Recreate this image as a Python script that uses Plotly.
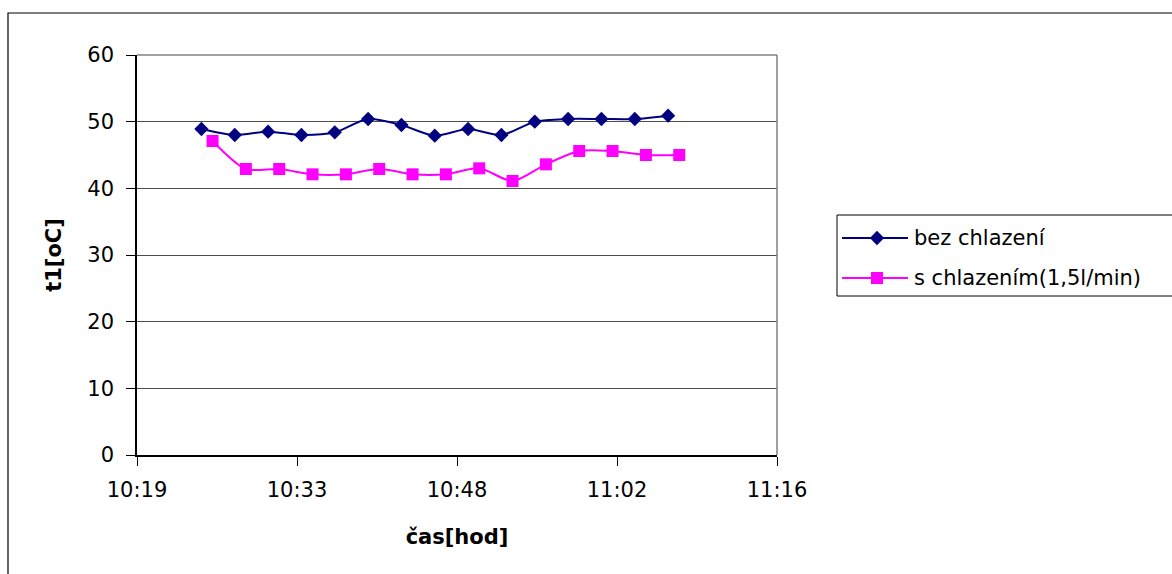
import plotly.graph_objects as go

# measurement times (hh:mm) and temperatures t1 [°C]
cas_bez = ["10:25", "10:28", "10:31", "10:34", "10:37", "10:40", "10:43", "10:46",
           "10:49", "10:52", "10:55", "10:58", "11:01", "11:04", "11:07"]
t1_bez = [48.9, 48.0, 48.5, 48.0, 48.4, 50.4, 49.5, 47.9,
          48.9, 48.0, 50.0, 50.4, 50.4, 50.4, 50.9]

cas_s = ["10:26", "10:29", "10:32", "10:35", "10:38", "10:41", "10:44", "10:47",
         "10:50", "10:53", "10:56", "10:59", "11:02", "11:05", "11:08"]
t1_s = [47.1, 42.9, 42.9, 42.1, 42.1, 42.9, 42.1, 42.1,
        43.0, 41.1, 43.6, 45.6, 45.6, 45.0, 45.0]

series_names = ["bez chlazení", "s chlazením(1,5l/min)"]

# axis: 10:19:12 .. 11:16:48 with a major step of 0.01 day (14.4 min)
x_tick_vals = ["2000-01-01 10:19:12", "2000-01-01 10:33:36", "2000-01-01 10:48:00",
               "2000-01-01 11:02:24", "2000-01-01 11:16:48"]
x_tick_text = ["10:19", "10:33", "10:48", "11:02", "11:16"]


def stamp(hm):
    return "2000-01-01 " + hm + ":00"


W, H = 1172, 574
FONT = "DejaVu Sans, Liberation Sans, Arial, sans-serif"
FS = 21
BLUE = "#000080"
PINK = "#FF00FF"

fig = go.Figure()
fig.add_trace(go.Scatter(
    x=[stamp(t) for t in cas_bez], y=t1_bez, name=series_names[0],
    mode="lines+markers",
    line=dict(color=BLUE, width=2, shape="spline", smoothing=0.8),
    marker=dict(symbol="diamond", size=11, color=BLUE),
    showlegend=False,
))
fig.add_trace(go.Scatter(
    x=[stamp(t) for t in cas_s], y=t1_s, name=series_names[1],
    mode="lines+markers",
    line=dict(color=PINK, width=2, shape="spline", smoothing=0.8),
    marker=dict(symbol="square", size=12, color=PINK),
    showlegend=False,
))

# legend keys, drawn on a pixel-based overlay axis pair
key_rows = [238, 278]
for row, color, sym, size in [(key_rows[0], BLUE, "diamond", 11),
                              (key_rows[1], PINK, "square", 12)]:
    fig.add_trace(go.Scatter(
        x=[842, 908], y=[row, row], xaxis="x2", yaxis="y2",
        mode="lines", line=dict(color=color, width=2),
        showlegend=False, hoverinfo="skip",
    ))
    fig.add_trace(go.Scatter(
        x=[877], y=[row], xaxis="x2", yaxis="y2",
        mode="markers", marker=dict(symbol=sym, size=size, color=color),
        showlegend=False, hoverinfo="skip",
    ))

x0, x1 = 137 / W, 777 / W
y0, y1 = 1 - 455 / H, 1 - 55 / H

fig.update_layout(
    width=W, height=H,
    margin=dict(l=0, r=0, t=0, b=0, autoexpand=False),
    paper_bgcolor="white", plot_bgcolor="rgba(0,0,0,0)",
    font=dict(family=FONT, size=FS, color="black"),
    showlegend=False,
    xaxis=dict(
        domain=[x0, x1],
        type="date",
        range=[x_tick_vals[0], x_tick_vals[-1]],
        tickmode="array", tickvals=x_tick_vals, ticktext=x_tick_text,
        showgrid=False, zeroline=False, automargin=False,
        showline=True, linecolor="black", linewidth=1.5,
        ticks="outside", ticklen=9, tickcolor="black",
        ticklabelstandoff=6,
        title=dict(text="<b>čas[hod]</b>", font=dict(size=FS), standoff=28),
    ),
    yaxis=dict(
        domain=[y0, y1],
        range=[0, 60], tickmode="linear", tick0=0, dtick=10,
        showgrid=True, gridcolor="#4d4d4d", gridwidth=1,
        zeroline=False, automargin=False,
        showline=True, linecolor="black", linewidth=1.5,
        ticks="outside", ticklen=9, tickcolor="black",
        ticklabelstandoff=8,
        title=dict(text="<b>t1[oC]</b>", font=dict(size=FS), standoff=20),
    ),
    xaxis2=dict(domain=[0, 1], range=[0, W], anchor="y2", visible=False,
                fixedrange=True),
    yaxis2=dict(domain=[0, 1], range=[H, 0], anchor="x2", visible=False,
                fixedrange=True),
    annotations=[
        dict(text=series_names[0], xref="paper", yref="paper",
             x=912 / W, y=1 - key_rows[0] / H, xanchor="left", yanchor="middle",
             showarrow=False, font=dict(size=FS)),
        dict(text=series_names[1], xref="paper", yref="paper",
             x=912 / W, y=1 - key_rows[1] / H, xanchor="left", yanchor="middle",
             showarrow=False, font=dict(size=FS)),
    ],
    shapes=[
        # plot area frame (grey top/right edges)
        dict(type="line", xref="paper", yref="paper", x0=x0, x1=x1, y0=y1, y1=y1,
             line=dict(color="#808080", width=1.5)),
        dict(type="line", xref="paper", yref="paper", x0=x1, x1=x1, y0=y0, y1=y1,
             line=dict(color="#808080", width=1.5)),
        # legend frame
        dict(type="rect", xref="paper", yref="paper",
             x0=837 / W, x1=1.01, y0=1 - 296 / H, y1=1 - 215 / H,
             line=dict(color="black", width=1), layer="below"),
        # outer chart border
        dict(type="rect", xref="paper", yref="paper",
             x0=8 / W, x1=1.02, y0=-0.02, y1=1 - 13 / H,
             line=dict(color="black", width=1.2), layer="below"),
    ],
)

fig.write_html("out.html")
